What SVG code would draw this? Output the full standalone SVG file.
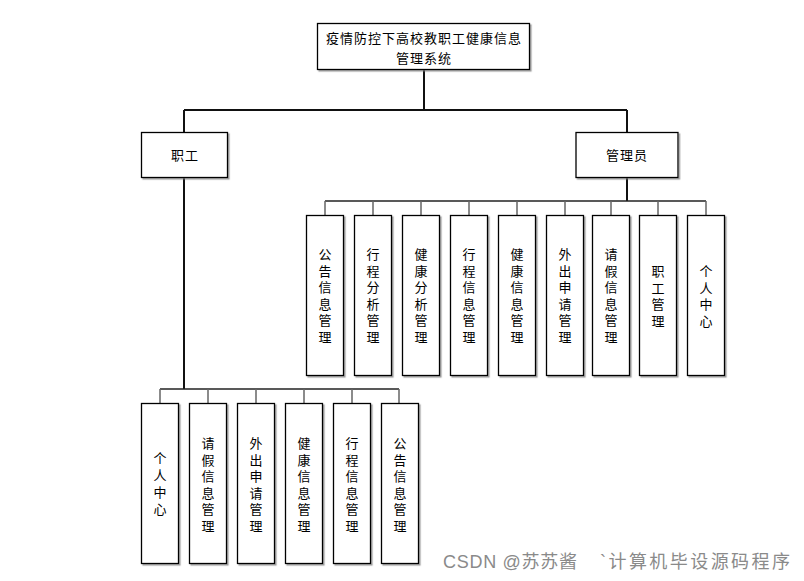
<svg xmlns="http://www.w3.org/2000/svg" width="804" height="581" viewBox="0 0 804 581">
<style>
  .box { fill: #ffffff; stroke: #000000; stroke-width: 1.3; filter: url(#sh); }
  .t { font-family: "Noto Sans CJK SC", "Liberation Sans", sans-serif; font-size: 13px; fill: #000; text-anchor: middle; dominant-baseline: central; }
  .main { stroke: #111; stroke-width: 2; fill: none; }
  .bus { stroke: #222; stroke-width: 1.6; fill: none; }
  .tick { stroke: #666; stroke-width: 1.5; fill: none; }
  .wm { font-family: "Liberation Sans", "Noto Sans CJK SC", sans-serif; font-size: 18px; fill: #8a8a8a; }
</style>
<defs>
  <filter id="sh" x="-20%" y="-20%" width="140%" height="140%">
    <feDropShadow dx="1.5" dy="1.5" stdDeviation="0.7" flood-color="#777" flood-opacity="0.7"/>
  </filter>
</defs>
<rect width="804" height="581" fill="#ffffff"/>

<g id="connectors">
  <path class="main" d="M424 69 V110 M184 110 H627 M184 110 V132 M627 110 V132"/>
  <path class="main" d="M627 177 V201"/>
  <path class="bus" d="M325 201 H706"/>
  <path class="tick" d="M325 201 V215 M373 201 V215 M421 201 V215 M469 201 V215 M517 201 V215 M565 201 V215 M611 201 V215 M658 201 V215 M706 201 V215"/>
  <path class="main" d="M184 177 V389"/>
  <path class="bus" d="M160 389 H399"/>
  <path class="tick" d="M160 389 V403 M208 389 V403 M256 389 V403 M304 389 V403 M352 389 V403 M399 389 V403"/>
</g>

<g id="root">
  <rect class="box" x="317.5" y="23.5" width="212" height="46"/>
  <text class="t" x="424" y="37" letter-spacing="1">疫情防控下高校教职工健康信息</text>
  <text class="t" x="424" y="57" letter-spacing="1">管理系统</text>
</g>

<g id="staff">
  <rect class="box" x="141.5" y="132.5" width="86" height="45"/>
  <text class="t" x="185" y="154" letter-spacing="1">职工</text>
</g>

<g id="admin">
  <rect class="box" x="576" y="132.5" width="102" height="45"/>
  <text class="t" x="627" y="154" letter-spacing="1">管理员</text>
</g>

<g id="a1">
  <rect class="box" x="306.5" y="215.5" width="37" height="160"/>
  <text class="t"><tspan x="325" y="253">公</tspan><tspan x="325" y="269.5">告</tspan><tspan x="325" y="286">信</tspan><tspan x="325" y="302.5">息</tspan><tspan x="325" y="319">管</tspan><tspan x="325" y="335.5">理</tspan></text>
</g>
<g id="a2">
  <rect class="box" x="354.5" y="215.5" width="37" height="160"/>
  <text class="t"><tspan x="373" y="253">行</tspan><tspan x="373" y="269.5">程</tspan><tspan x="373" y="286">分</tspan><tspan x="373" y="302.5">析</tspan><tspan x="373" y="319">管</tspan><tspan x="373" y="335.5">理</tspan></text>
</g>
<g id="a3">
  <rect class="box" x="402.5" y="215.5" width="37" height="160"/>
  <text class="t"><tspan x="421" y="253">健</tspan><tspan x="421" y="269.5">康</tspan><tspan x="421" y="286">分</tspan><tspan x="421" y="302.5">析</tspan><tspan x="421" y="319">管</tspan><tspan x="421" y="335.5">理</tspan></text>
</g>
<g id="a4">
  <rect class="box" x="450.5" y="215.5" width="37" height="160"/>
  <text class="t"><tspan x="469" y="253">行</tspan><tspan x="469" y="269.5">程</tspan><tspan x="469" y="286">信</tspan><tspan x="469" y="302.5">息</tspan><tspan x="469" y="319">管</tspan><tspan x="469" y="335.5">理</tspan></text>
</g>
<g id="a5">
  <rect class="box" x="498.5" y="215.5" width="37" height="160"/>
  <text class="t"><tspan x="517" y="253">健</tspan><tspan x="517" y="269.5">康</tspan><tspan x="517" y="286">信</tspan><tspan x="517" y="302.5">息</tspan><tspan x="517" y="319">管</tspan><tspan x="517" y="335.5">理</tspan></text>
</g>
<g id="a6">
  <rect class="box" x="546.5" y="215.5" width="37" height="160"/>
  <text class="t"><tspan x="565" y="253">外</tspan><tspan x="565" y="269.5">出</tspan><tspan x="565" y="286">申</tspan><tspan x="565" y="302.5">请</tspan><tspan x="565" y="319">管</tspan><tspan x="565" y="335.5">理</tspan></text>
</g>
<g id="a7">
  <rect class="box" x="592.5" y="215.5" width="37" height="160"/>
  <text class="t"><tspan x="611" y="253">请</tspan><tspan x="611" y="269.5">假</tspan><tspan x="611" y="286">信</tspan><tspan x="611" y="302.5">息</tspan><tspan x="611" y="319">管</tspan><tspan x="611" y="335.5">理</tspan></text>
</g>
<g id="a8">
  <rect class="box" x="639.5" y="215.5" width="37" height="160"/>
  <text class="t"><tspan x="658" y="270">职</tspan><tspan x="658" y="286.5">工</tspan><tspan x="658" y="303">管</tspan><tspan x="658" y="319.5">理</tspan></text>
</g>
<g id="a9">
  <rect class="box" x="687.5" y="215.5" width="37" height="160"/>
  <text class="t"><tspan x="706" y="270">个</tspan><tspan x="706" y="286.5">人</tspan><tspan x="706" y="303">中</tspan><tspan x="706" y="319.5">心</tspan></text>
</g>

<g id="s1">
  <rect class="box" x="141.5" y="403.5" width="37" height="160"/>
  <text class="t"><tspan x="160" y="457">个</tspan><tspan x="160" y="474">人</tspan><tspan x="160" y="491">中</tspan><tspan x="160" y="508">心</tspan></text>
</g>
<g id="s2">
  <rect class="box" x="189.5" y="403.5" width="37" height="160"/>
  <text class="t"><tspan x="208" y="442">请</tspan><tspan x="208" y="458.5">假</tspan><tspan x="208" y="475">信</tspan><tspan x="208" y="491.5">息</tspan><tspan x="208" y="508">管</tspan><tspan x="208" y="524.5">理</tspan></text>
</g>
<g id="s3">
  <rect class="box" x="237.5" y="403.5" width="37" height="160"/>
  <text class="t"><tspan x="256" y="442">外</tspan><tspan x="256" y="458.5">出</tspan><tspan x="256" y="475">申</tspan><tspan x="256" y="491.5">请</tspan><tspan x="256" y="508">管</tspan><tspan x="256" y="524.5">理</tspan></text>
</g>
<g id="s4">
  <rect class="box" x="285.5" y="403.5" width="37" height="160"/>
  <text class="t"><tspan x="304" y="442">健</tspan><tspan x="304" y="458.5">康</tspan><tspan x="304" y="475">信</tspan><tspan x="304" y="491.5">息</tspan><tspan x="304" y="508">管</tspan><tspan x="304" y="524.5">理</tspan></text>
</g>
<g id="s5">
  <rect class="box" x="333.5" y="403.5" width="37" height="160"/>
  <text class="t"><tspan x="352" y="442">行</tspan><tspan x="352" y="458.5">程</tspan><tspan x="352" y="475">信</tspan><tspan x="352" y="491.5">息</tspan><tspan x="352" y="508">管</tspan><tspan x="352" y="524.5">理</tspan></text>
</g>
<g id="s6">
  <rect class="box" x="381.5" y="403.5" width="37" height="160"/>
  <text class="t"><tspan x="400" y="442">公</tspan><tspan x="400" y="458.5">告</tspan><tspan x="400" y="475">信</tspan><tspan x="400" y="491.5">息</tspan><tspan x="400" y="508">管</tspan><tspan x="400" y="524.5">理</tspan></text>
</g>

<g id="watermark">
  <text class="wm" x="443" y="568" textLength="134" lengthAdjust="spacing">CSDN @苏苏酱</text>
  <text class="wm" x="600" y="568" textLength="190" lengthAdjust="spacing">`计算机毕设源码程序</text>
</g>
</svg>
